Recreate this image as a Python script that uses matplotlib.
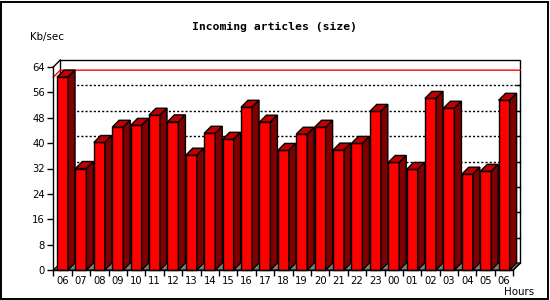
import matplotlib
matplotlib.use("Agg")
import matplotlib.pyplot as plt
from matplotlib.patches import Polygon, Rectangle

hours = ["06", "07", "08", "09", "10", "11", "12", "13", "14", "15", "16", "17",
         "18", "19", "20", "21", "22", "23", "00", "01", "02", "03", "04", "05", "06"]
kb_per_sec = [60.8, 32.0, 40.2, 45.0, 45.6, 48.8, 46.7, 36.2, 43.1, 41.2, 51.3, 46.6,
              37.7, 42.8, 45.0, 37.8, 39.9, 50.0, 33.9, 31.7, 54.1, 51.0, 30.2, 31.1, 53.5]
y_ticks = [0, 8, 16, 24, 32, 40, 48, 56, 64]

FRONT = "#ff0000"
TOP = "#c00000"
SIDE = "#800000"
FLOOR = "#808080"


def draw_chart(ax, dx, dy):
    n = len(hours)
    x0, x1 = -0.5, n - 0.5
    ymax = y_ticks[-1]

    # back plane
    ax.add_patch(Rectangle((x0 + dx, dy), n, ymax, facecolor="white",
                           edgecolor="black", lw=1, clip_on=False, zorder=1))
    # left wall top edge
    ax.plot([x0, x0 + dx], [ymax, ymax + dy], color="black", lw=1,
            clip_on=False, zorder=1.2)

    for v in y_ticks[1:-1]:
        ax.plot([x0 + dx, x1 + dx], [v + dy, v + dy], color="black", lw=1,
                linestyle=(0, (1.5, 1.5)), clip_on=False, zorder=1.1)
        ax.plot([x1 + dx - 0.16, x1 + dx], [v + dy, v + dy], color="black",
                lw=1, clip_on=False, zorder=1.1)

    # max line
    top = max(kb_per_sec)
    ax.plot([x0, x0 + dx, x1 + dx], [top, top + dy, top + dy], color="red",
            lw=1, clip_on=False, zorder=1.2)

    # floor
    ax.add_patch(Polygon([(x0, 0), (x1, 0), (x1 + dx, dy), (x0 + dx, dy)],
                         closed=True, facecolor=FLOOR, edgecolor="black",
                         lw=0.8, clip_on=False, zorder=1.3))

    w = 0.6
    for i, v in enumerate(kb_per_sec):
        left, right = i - w / 2, i + w / 2
        ax.add_patch(Rectangle((left, 0), w, v, facecolor=FRONT,
                               edgecolor="black", lw=1, clip_on=False, zorder=2))
        ax.add_patch(Polygon([(left, v), (right, v), (right + dx, v + dy),
                              (left + dx, v + dy)], closed=True, facecolor=TOP,
                             edgecolor="black", lw=1, clip_on=False, zorder=2))
        ax.add_patch(Polygon([(right, 0), (right, v), (right + dx, v + dy),
                              (right + dx, dy)], closed=True, facecolor=SIDE,
                             edgecolor="black", lw=1, clip_on=False, zorder=2))

    # right edge of floor
    ax.plot([x1, x1 + dx], [0, dy], color="black", lw=1, clip_on=False, zorder=2.1)

    ax.set_xlim(x0, x1)
    ax.set_ylim(0, ymax)
    ax.patch.set_visible(False)
    for side in ["top", "right"]:
        ax.spines[side].set_visible(False)
    for side in ["left", "bottom"]:
        ax.spines[side].set_linewidth(1)
        ax.spines[side].set_zorder(3)

    ax.set_yticks(y_ticks)
    ax.set_yticklabels([str(t) for t in y_ticks])
    ax.tick_params(axis="y", length=4, width=1, pad=2, labelsize=7.2)

    ax.set_xticks([i - 0.5 for i in range(n + 1)])
    ax.set_xticklabels([])
    ax.tick_params(axis="x", which="major", length=4, width=1)
    ax.set_xticks(list(range(n)), minor=True)
    ax.set_xticklabels(hours, minor=True)
    ax.tick_params(axis="x", which="minor", length=0, pad=4, labelsize=7.2)


def main():
    fig = plt.figure(figsize=(5.5, 3.0), dpi=100)
    ax = fig.add_axes([53.3 / 550, 30 / 300, 460 / 550, 203 / 300])

    dx = 7 / 18.4
    dy = 7 * 64 / 203
    draw_chart(ax, dx, dy)

    fig.text(0.5, 1 - 27 / 300, "Incoming articles (size)", ha="center",
             va="center", family="DejaVu Sans Mono", weight="bold", fontsize=8.2)
    fig.text(30 / 550, 1 - 37 / 300, "Kb/sec", ha="left", va="center",
             fontsize=7.4)
    fig.text(534 / 550, 1 - 292 / 300, "Hours", ha="right", va="center",
             fontsize=7.4)

    fig.add_artist(Rectangle((0.5 / 550, 1.5 / 300), 547.5 / 550, 297 / 300,
                             transform=fig.transFigure, fill=False,
                             edgecolor="black", lw=1.4))

    fig.savefig("out.png", dpi=100)
    plt.close(fig)


if __name__ == "__main__":
    main()
